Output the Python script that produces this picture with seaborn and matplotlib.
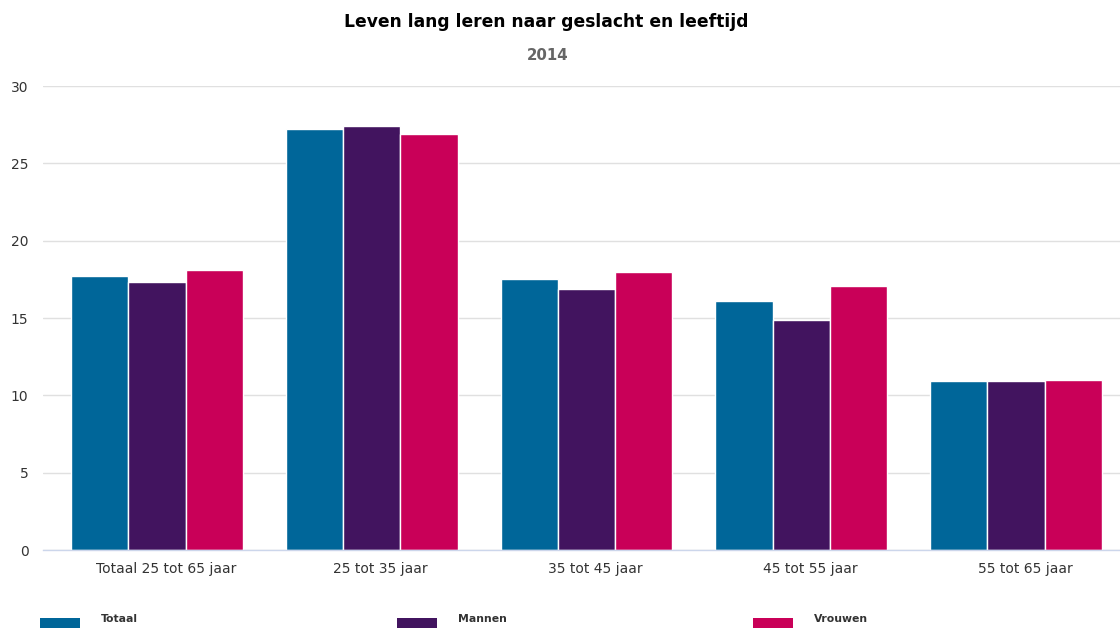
import matplotlib
matplotlib.use("Agg")
import matplotlib.pyplot as plt
from matplotlib.patches import Rectangle
from matplotlib.transforms import ScaledTranslation
import seaborn as sns
import pandas as pd

categories = ["Totaal 25 tot 65 jaar", "25 tot 35 jaar", "35 tot 45 jaar",
              "45 tot 55 jaar", "55 tot 65 jaar"]
series = ["Totaal", "Mannen", "Vrouwen"]
totaal = [17.7, 27.2, 17.5, 16.1, 10.9]
mannen = [17.3, 27.4, 16.9, 14.9, 10.9]
vrouwen = [18.1, 26.9, 18.0, 17.1, 11.0]
colors = ["#006699", "#42145F", "#C90058"]
yticks = [0, 5, 10, 15, 20, 25, 30]

rows = []
for name, vals in zip(series, [totaal, mannen, vrouwen]):
    for c, v in zip(categories, vals):
        rows.append({"cat": c, "serie": name, "value": v})
df = pd.DataFrame(rows)

sns.set_theme(style="white")
plt.rcParams["font.family"] = ["DejaVu Sans"]

fig = plt.figure(figsize=(11.2, 6.28), dpi=100)
ax = fig.add_axes([43 / 1120, 1 - 550 / 628, 1077 / 1120, (550 - 86) / 628])

sns.barplot(data=df, x="cat", y="value", hue="serie", order=categories,
            hue_order=series, palette=colors, width=0.8, saturation=1,
            edgecolor="white", linewidth=1, ax=ax, legend=False, errorbar=None)

ax.set_ylim(0, 30)
ax.set_xlim(-0.531, 4.484)
ax.set_yticks(yticks)
ax.set_yticklabels([str(t) for t in yticks])
ax.yaxis.grid(True, color="#e0e0e0", linewidth=1)
ax.set_axisbelow(True)
ax.set_xlabel("")
ax.set_ylabel("")
for s in ["top", "right", "left"]:
    ax.spines[s].set_visible(False)
ax.spines["bottom"].set_color("#ccd6eb")
ax.spines["bottom"].set_linewidth(1)
ax.tick_params(axis="both", colors="#333333", labelsize=10)
ax.tick_params(axis="y", length=0, pad=10.5)
ax.tick_params(axis="x", length=7, width=0.8, color="#ccd6eb", pad=1.5)
offset = ScaledTranslation(9 / 100, 0, fig.dpi_scale_trans)
for lab in ax.get_xticklabels():
    lab.set_transform(lab.get_transform() + offset)

fig.text(546 / 1120, 1 - 22 / 628, "Leven lang leren naar geslacht en leeftijd",
         ha="center", va="center", fontsize=12.3, fontweight="bold", color="#000000")
fig.text(548 / 1120, 1 - 56 / 628, "2014", ha="center", va="center",
         fontsize=10.8, fontweight="bold", color="#666666")

# legend
leg_x = [40, 397, 753]
for x, name, col in zip(leg_x, series, colors):
    fig.patches.append(Rectangle((x / 1120, 0), 40 / 1120, 10 / 628,
                                 transform=fig.transFigure, facecolor=col,
                                 edgecolor="none"))
    fig.text((x + 61) / 1120, 1 - 619 / 628, name, ha="left", va="center",
             fontsize=7.8, fontweight="bold", color="#333333")

fig.savefig("out.png", dpi=100)
